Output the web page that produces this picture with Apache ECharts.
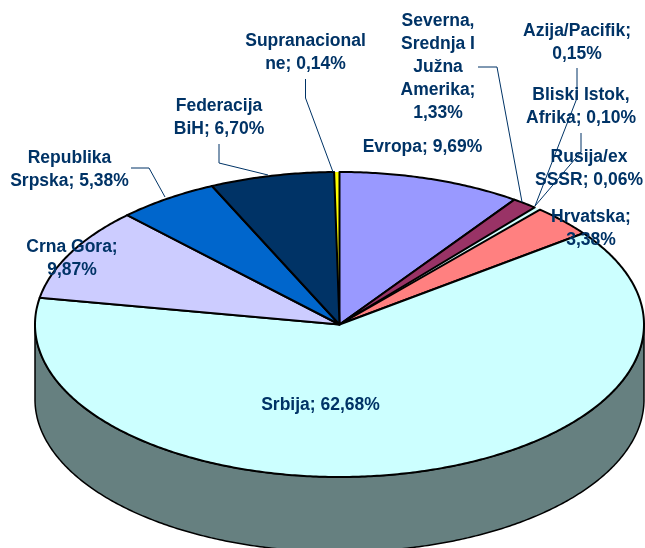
<!DOCTYPE html>
<html>
<head>
<meta charset="utf-8">
<title>Pie</title>
<style>
html, body { margin: 0; padding: 0; background: #fff; }
#ct1 { width: 645px; height: 548px; }
</style>
<script src="https://cdn.jsdelivr.net/npm/echarts@6/dist/echarts.min.js"></script>
</head>
<body>
<div id="ct1"></div>
<script>
// clockwise from 12 o'clock
var categories = ['Evropa', 'Severna,\nSrednja I\nJužna\nAmerika', 'Azija/Pacifik', 'Bliski Istok,\nAfrika', 'Rusija/ex\nSSSR', 'Hrvatska', 'Srbija', 'Crna Gora', 'Republika\nSrpska', 'Federacija\nBiH', 'Supranacional\nne'];
var values = [9.69, 1.33, 0.15, 0.10, 0.06, 3.38, 62.68, 9.87, 5.38, 6.70, 0.14];
// what the wedges measure on the picture: the slivers are drawn wider than their labels
var drawnValues = [9.69, 1.33, 0.17, 0.11, 0.08, 3.33, 62.68, 9.87, 5.38, 6.56, 0.28];
var colors = ['#9999FF', '#993366', '#CCFFFF', '#CCFFFF', '#CCFFCC', '#FF8080', '#CCFFFF', '#CCCCFF', '#0066CC', '#003366', '#FFFF00'];
var sideColor = '#668080';

// label centre, and whether the value goes on its own line
var labelX = [422.5, 438, 577, 581, 589, 591, 320.5, 72, 69.5, 219, 305.5];
var labelY = [147, 67.5, 42.5, 107, 169, 228.5, 405, 258.5, 169.5, 118, 52.5];
var labelBreak = [false, true, true, false, false, true, false, true, false, false, false];

// leader lines, label side -> pie edge
var leaders = [
	[[478, 67], [497, 67], [522, 202]],
	[[577, 68], [577, 98], [535, 206]],
	[[581, 133], [581, 152], [535, 206]],
	[[131, 168], [149, 168], [165, 197]],
	[[219, 144], [219, 163], [268, 175]],
	[[305.5, 79], [305.5, 98], [333, 172]]
];

var cx = 339.5, cy = 324.5, rx = 304.5, ry = 152.5, depth = 75;
var total = 0;
for (var n = 0; n < drawnValues.length; n++) {
	total += drawnValues[n];
}

function sliceAngles(idx) {
	var sum = 0;
	for (var i = 0; i < idx; i++) {
		sum += drawnValues[i];
	}
	return [sum / total * 2 * Math.PI, (sum + drawnValues[idx]) / total * 2 * Math.PI];
}

function arcPoints(a0, a1, dy) {
	var pts = [];
	var steps = Math.max(2, Math.ceil((a1 - a0) / 0.01));
	for (var i = 0; i <= steps; i++) {
		var a = a0 + (a1 - a0) * i / steps;
		pts.push([cx + rx * Math.sin(a), cy - ry * Math.cos(a) + dy]);
	}
	return pts;
}

function renderSide(params, api) {
	var ang = sliceAngles(params.dataIndex);
	// only the front half of the rim shows
	var a0 = Math.max(ang[0], Math.PI / 2);
	var a1 = Math.min(ang[1], Math.PI * 3 / 2);
	if (a1 <= a0) {
		return null;
	}
	var pts = arcPoints(a0, a1, 0).concat(arcPoints(a0, a1, depth).reverse());
	return {
		type: 'polygon',
		shape: { points: pts },
		style: { fill: sideColor, stroke: '#000', lineWidth: 1.5 }
	};
}

function renderTop(params, api) {
	var ang = sliceAngles(params.dataIndex);
	var pts = [[cx, cy]].concat(arcPoints(ang[0], ang[1], 0));
	// slivers go underneath with no outline, or the strokes of the neighbours swallow them
	var tiny = api.value(0) < 0.5;
	return {
		type: 'polygon',
		z2: tiny ? 0 : 1,
		shape: { points: pts },
		style: { fill: colors[params.dataIndex], stroke: tiny ? null : '#000', lineWidth: 2, lineJoin: 'round' }
	};
}

function renderLeader(params, api) {
	return {
		type: 'polyline',
		shape: { points: leaders[params.dataIndex] },
		style: { fill: null, stroke: '#003366', lineWidth: 1 }
	};
}

function labelText(i) {
	var v = values[i].toFixed(2).replace('.', ',') + '%';
	return categories[i] + ';' + (labelBreak[i] ? '\n' : ' ') + v;
}

function renderLabel(params, api) {
	var i = params.dataIndex;
	return {
		type: 'text',
		style: {
			x: labelX[i],
			y: labelY[i],
			text: labelText(i),
			fill: '#003366',
			font: 'bold 17.5px "Liberation Sans", Arial, sans-serif',
			lineHeight: 23,
			align: 'center',
			verticalAlign: 'middle'
		}
	};
}

var seriesData = [];
for (var k = 0; k < values.length; k++) {
	seriesData.push([values[k]]);
}

var option1 = {
	backgroundColor: '#fff',
	animation: false,
	tooltip: { show: false },
	series: [
		{ type: 'custom', coordinateSystem: 'none', renderItem: renderSide, data: seriesData, z: 1, silent: true },
		{ type: 'custom', coordinateSystem: 'none', renderItem: renderTop, data: seriesData, z: 2, silent: true },
		{ type: 'custom', coordinateSystem: 'none', renderItem: renderLeader, data: leaders.map(function (l, i) { return [i]; }), z: 3, silent: true },
		{ type: 'custom', coordinateSystem: 'none', renderItem: renderLabel, data: seriesData, z: 4, silent: true }
	]
};

var myChart1 = echarts.init(document.getElementById('ct1'));
myChart1.setOption(option1, true);
</script>
</body>
</html>
